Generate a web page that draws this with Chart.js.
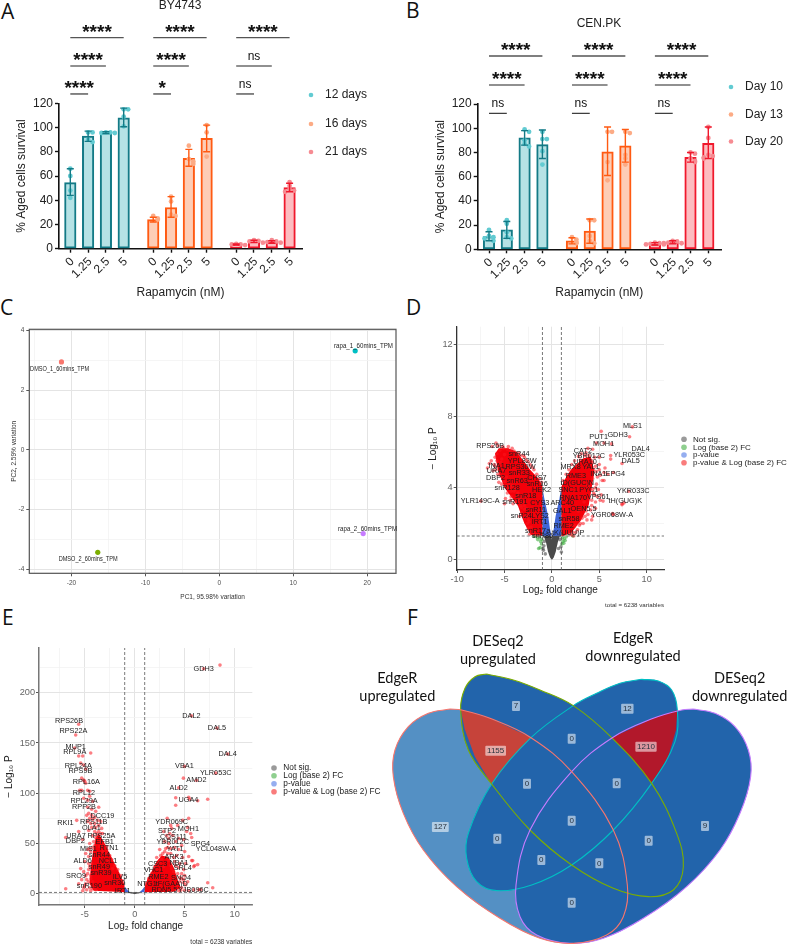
<!DOCTYPE html>
<html>
<head>
<meta charset="utf-8">
<title>Rapamycin survival and RNA-seq panels</title>
<script src="https://cdn.jsdelivr.net/npm/chart.js@4/dist/chart.umd.js"></script>
<style>
  body { margin: 0; background: #fff; width: 787px; height: 947px; position: relative; overflow: hidden; }
  canvas { position: absolute; }
  .letter { position: absolute; font-family: "Open Sans", sans-serif; font-size: 21px; line-height: 21px; color: #111; }
</style>
</head>
<body>
<div class="letter" style="left:1px;top:1px">A</div>
<div class="letter" style="left:406px;top:0px">B</div>
<div class="letter" style="left:0px;top:297px">C</div>
<div class="letter" style="left:406px;top:297px">D</div>
<div class="letter" style="left:2px;top:607px">E</div>
<div class="letter" style="left:407px;top:607px">F</div>
<canvas id="panelA" width="400" height="300" style="left:0;top:0"></canvas>
<canvas id="panelB" width="387" height="300" style="left:400px;top:0"></canvas>
<canvas id="panelC" width="400" height="320" style="left:0;top:300px"></canvas>
<canvas id="panelD" width="387" height="320" style="left:400px;top:300px"></canvas>
<canvas id="panelE" width="390" height="337" style="left:0;top:610px"></canvas>
<canvas id="panelF" width="447" height="337" style="left:340px;top:610px"></canvas>

<script>
// ==== DATA: survival bars ====
const doses = ['0', '1.25', '2.5', '5'];

const byMeans = [54.5, 93, 95.8, 108, 24, 34, 74.5, 91, 3.5, 6, 5.5, 50.5];
const byLow = [44, 88.6, 95, 100.7, 22, 26, 68, 80, 3, 5, 4.5, 47];
const byHigh = [66, 97, 96.5, 116, 26, 43, 82, 102, 4, 7, 6.5, 54];
const byPoints = [
  [66, 60, 48, 42], [96, 96, 90, 88], [96, 96, 95.5, 95.5], [115, 115, 109, 101],
  [27, 25, 24], [43, 39, 28, 27], [85, 74, 72, 70], [102, 96, 76],
  [4, 3.5, 3.5, 3], [7, 6.5, 6, 5], [7, 6, 5.5, 5], [55, 52, 49, 48, 47]
];
const byLegend = ['12 days', '16 days', '21 days'];
const bySigLabels = ['****', '****', '****', '****', '****', '*', '****', 'ns', 'ns'];
const bySigLevels = [174.2, 150.8, 127.7, 174.2, 150.8, 127.7, 174.2, 150.8, 127.7];

const cenMeans = [10.5, 16, 92, 86.5, 7, 15, 80.5, 85.5, 4.5, 6, 76, 87.5];
const cenLow = [7, 9, 86, 75, 4.5, 5, 61, 72, 3.5, 4.5, 72, 75];
const cenHigh = [14.5, 23, 98, 98.5, 9.5, 25, 101, 99, 5.5, 7, 80, 101];
const cenPoints = [
  [16, 11, 10, 9, 7], [24, 21, 14, 10, 9], [99, 97, 90, 87, 85], [97, 91, 91, 81, 70],
  [10, 8, 6, 5], [24, 24, 11, 7, 5], [97, 97, 72, 57], [97, 96, 78, 75, 70],
  [5.5, 5, 4.5, 4, 4], [7, 6.5, 5.5, 5, 5], [80, 79, 75, 73, 72], [101, 92, 78, 77, 76, 75]
];
const cenLegend = ['Day 10', 'Day 13', 'Day 20'];
const cenSigLabels = ['****', '****', 'ns', '****', '****', 'ns', '****', '****', 'ns'];
const cenSigLevels = [159.6, 135.7, 112.3, 159.6, 135.7, 112.3, 159.6, 135.7, 112.3];

// ==== DATA: PCA ====
const pcaNames = ['DMSO_1_60mins_TPM', 'rapa_1_60mins_TPM', 'DMSO_2_60mins_TPM', 'rapa_2_60mins_TPM'];
const pcaX = [-21.35, 18.38, -16.44, 19.46];
const pcaY = [2.94, 3.31, -3.43, -2.8];
const pcaLabelX = [-21.6, 19.5, -17.74, 20.05];
const pcaLabelY = [2.7, 3.47, -3.66, -2.63];

// ==== DATA: volcano D ====
const dRedCoreL = [[-1,1.3],[-1,4.1],[-1.5,4.55],[-2.3,5],[-3,5.5],[-3.7,6],[-4.6,6.2],[-5.6,6.2],[-6,5.9],[-5.7,5],[-5,4],[-3.6,3],[-2.9,2],[-2.2,1.35],[-1,1.3]];
const dRedCoreR = [[1,1.3],[1,4.05],[1.5,4.6],[2,5],[3.3,5.65],[4.1,5.75],[4.5,4.9],[4.2,3.97],[3.9,3.05],[3.1,2.2],[2.1,1.5],[1.2,1.3],[1,1.3]];
const dBlueL = [[-1,1.3],[-1,4],[-0.8,3.4],[-0.55,2.8],[-0.39,2.4],[-0.2,1.7],[-0.05,1.3],[-1,1.3]];
const dBlueR = [[1,1.3],[1,4],[0.8,3.4],[0.55,2.8],[0.39,2.4],[0.2,1.7],[0.05,1.3],[1,1.3]];
const dGrey = [[-0.85,1.3],[-0.6,0.9],[-0.4,0.4],[-0.2,0.1],[0,-0.03],[0.2,0.1],[0.4,0.4],[0.6,0.9],[0.85,1.3],[0.05,1.3],[0,1.1],[-0.05,1.3],[-0.85,1.3]];
const dRedPoints = [
  [-5.9,6.5],[-6.3,6.3],[-5.2,6.3],[-5.5,6.1],[-4.7,6.15],[-4.4,6.05],[-4,6.05],[-3.7,5.85],[-3.3,5.8],[-2.9,5.7],[-2.5,5.45],[-2.1,5.15],
  [-6.8,5.1],[-6.4,5.5],[-6,5.7],[-5.6,5.2],[-5.3,5.6],[-5,5.85],[-6.1,5.3],[-5.9,5],[-5.7,4.75],[-5.2,4.6],[-5.6,4.3],[-5,4.35],[-4.9,3.4],
  [-5,3.1],[-4.3,3.5],[-4,3.8],[-4.5,3.95],[-3.6,3.3],[-3.3,3],[-3.2,2.6],[-3.4,2.4],[-2.9,2.8],[-2.6,2.5],[-2.4,2.1],[-2.2,1.8],[-2,1.5],
  [-1.8,1.4],[-1.5,1.35],[-7.5,3.25],[-4.1,3.1],[-3.7,3.55],[-4.8,4.1],[-4.3,3.8],[-3.1,3.2],[-2.7,2.85],[-2.5,1.75],[-2.35,1.4],
  [-5.8,5.9],[-5.4,5.4],[-5.1,5],[-4.8,4.6],[-4.5,4.3],[-4.2,4.1],[-3.9,3.9],[-3.6,3.7],[-3.4,3.4],[-3.1,3.5],[-2.9,3],[-2.7,2.4],[-2.5,2.2],[-2.2,1.55],[-2.6,2],[-2.9,2.3],
  [-3.2,2.9],[-3.8,3.2],[-4.4,3.3],[-4.7,3.7],[-5.3,4.2],[-5.5,4.7],[-6.2,4.95],[-6,5.2],[-6.6,5.35],[-5.8,5.5],[-4.2,6.2],[-3.5,5.95],[-3,5.8],[-2.7,5.55],[-2.3,5.3],[-1.9,5],
  [-1.6,4.75],[-1.3,4.5],[-1.1,4.3],[-4.6,6.3],[-5.1,6.2],[-5.7,6.35],
  [5.2,7.15],[8.5,7.4],[8.2,6.85],[6.3,6.45],[4.7,6.5],[5.5,6.5],[4.3,6.15],[3.8,6.2],[6.2,5.8],[6.2,5.6],[5,5.7],[4.5,5.7],[7.4,5.35],[5,5.3],
  [4.3,5.4],[3.5,5.8],[5.5,4.85],[5,5],[4.4,5],[5.9,4.75],[6.5,4.85],[4.8,4.6],[4.3,4.5],[4,4.3],[3.8,4.1],[4.3,3.9],[4.9,3.9],[5.2,3.6],[5.1,3.3],
  [5.4,3.25],[4.5,3.6],[8.1,3.8],[7.4,3.1],[7.4,3.05],[7.6,3.15],[6.4,2.55],[6.5,2.5],[4.6,2.85],[4.3,2.4],[4.2,2.2],[3.6,2.7],[3.2,2.3],[3,2],
  [2.4,1.9],[2.2,1.5],[2.3,1.3],[1.9,1.4],[3.9,3.4],[4.2,3],[3.4,3.2],[2.8,2.7],[4.6,3.2],[4.7,4.2],[2.6,5.25],[3,5.55],
  [1.2,4.4],[1.5,4.75],[1.8,5],[2.1,5.3],[2.4,5.5],[2.8,5.75],[3.1,5.9],[3.6,5.95],[3.9,5.8],[4.2,5.5],[4.6,5.2],[4.7,4.9],[5.1,4.7],[5.3,4.4],[4.6,4],[4.4,3.7],[4.2,3.3],
  [4.1,2.75],[3.8,2.5],[3.5,2.4],[3.3,2],[2.9,1.9],[2.7,1.65],[2.5,1.5],[2.1,1.35],[3.7,2.2],[5.5,4.4],[4.8,3.5],[5.6,5.1]
];
const dGreenPoints = [[-1.3,1.2],[-1.5,1.1],[-1.2,1],[-1.1,0.85],[-1.25,0.65],[-1.4,0.6],[-1.6,1.25],[-1.05,1.1],[-1.9,1.28],[1.1,1.2],[1.3,1.15],[1.15,1],[1.05,0.85],[1.25,0.9],[1.5,1.25],[2.2,1.3],[1.4,1.05]];
const dGreyPoints = [[-0.95,0.6],[-0.85,0.75],[-0.9,0.5],[1,0.4],[0.95,0.7],[-0.7,0.3],[0.7,0.6],[-0.8,1],[0.85,1.1]];
const dGeneNames = ['MLS1','GDH3','PUT1','MOH1','DAL4','YLR053C','DAL5','CAT2','YBR012C','URA10','MRX8','YAL1','INA1','EPG4','RME3','tD(GUC)N','SNC1','PYC1','YKR033C','RNA170','VPS61','tH(GUG)K','ARC40','GAL1','OEN5.5','YGR068W-A','snR58','RME2','tK(UUU)P',
  'RPS26B','snR44','YPL82W','RPS30W','INA1','URA7','snR33','DBP2','CHS7','snR63','snR16','snR128','HEK2','snR18','YLR149C-A','snR191','CYS3','snR11','snR24','LYS2','IRT1','snR17a','snR86'];
const dGeneX = [8.5,6.93,4.93,5.46,9.36,8.17,8.31,3.27,3.9,3.5,1.97,4.12,4.89,6.69,2.53,2.68,1.72,3.9,8.59,2.25,4.89,7.74,1.09,1.09,3.34,6.34,1.8,1.23,1.72,
  -6.51,-3.48,-3.13,-3.31,-5.84,-5.84,-3.45,-5.95,-1.58,-3.66,-1.55,-4.72,-1.09,-2.75,-7.57,-3.91,-1.27,-1.69,-3.24,-1.23,-1.3,-1.51,-0.99];
const dGeneY = [7.44,6.96,6.81,6.44,6.16,5.82,5.49,6.06,5.75,5.43,5.15,5.13,4.78,4.76,4.66,4.25,3.88,3.88,3.82,3.41,3.47,3.26,3.13,2.72,2.82,2.48,2.24,1.87,1.49,
  6.31,5.88,5.47,5.15,5.24,4.91,4.81,4.53,4.53,4.38,4.22,4.01,3.86,3.53,3.26,3.19,3.12,2.74,2.43,2.43,2.07,1.6,1.29];

// ==== DATA: volcano E ====
const eRedCoreL = [[-1,1.5],[-1.02,9],[-1.4,18],[-1.9,28],[-2.5,40],[-3.1,52],[-3.6,60],[-3.9,55],[-4.2,40],[-4.4,25],[-4.5,10],[-4.1,3],[-1,1.5]];
const eRedCoreR = [[1,1.5],[1.03,8],[1.3,15],[1.8,24],[2.2,32],[2.7,38],[3.4,36],[3.9,26],[4.3,14],[4.6,6],[3.9,2],[1,1.5]];
const eBlueL = [[-1,7.5],[-0.8,4.5],[-0.55,2.2],[-0.45,1.4],[-1,1.3],[-1,7.5]];
const eBlueR = [[1,7.5],[0.8,4.5],[0.55,2.2],[0.45,1.4],[1,1.3],[1,7.5]];
const eGrey = [[-0.7,1.3],[-0.3,0.2],[0,-0.4],[0.3,0.2],[0.7,1.3],[0.3,1.6],[0,1.4],[-0.3,1.6],[-0.7,1.3]];
const eRedPoints = [
  [8.53,227.5],[6.9,223.9],[5.67,177],[8.23,164.8],[9.3,139],[4.97,126.7],[8.1,120],[4.87,115],[6.17,112.8],[4.4,105.5],[4.1,95.5],[5.4,96],[5.5,94],[4.1,88],[6.3,92.5],[7.3,94],
  [3.25,75],[5.4,75],[4.8,73],[3.6,68],[4.3,68],[5.3,66],[3.7,65],[5.2,62],[5.6,60],[5.7,56],[4.9,54],[3.8,58],[3.4,55],[3,52],[4.7,48],[3.1,45],[3.6,45],[4,46],[5,42],[2.8,40],
  [4.2,38],[5.4,37],[3.1,36],[5.7,33],[5.8,33],[4,32],[4.5,30],[3.6,28],[6,28],[6.3,29],[5.9,27],[4.9,24],[3.7,25],[2.9,27],[2.5,32],[4.3,20],[4.7,15],[5,18],[3.9,15],[7.3,11],[7.8,6],
  [5.4,3],[6.4,4],[6.6,4.2],[5.9,3.8],[4.4,3],[4.6,3.5],[4.9,11],[4.2,8],[3.6,10],[4,5],[3.3,40],[2.7,34],[3.4,33],[3.9,22],[4.5,12],
  [1.1,10],[1.4,15],[1.7,20],[2,27],[2.3,30],[2.6,38],[3,42],[2.5,44],[3.3,46],[3.6,40],[3.9,36],[4.1,28],[4.4,26],[4.7,20],[4.9,14],[5.1,9],[4.7,6],[5,3.5],[3.2,58],[2.9,62],
  [3.5,60],[4.1,52],[4.4,44],[3.4,50],[4.4,55],[4.8,36],[5.1,30],[2.2,36],[4.5,16],[5.3,12],
  [-5.6,168.7],[-5.9,158],[-4.4,140],[-6,145],[-5.6,137],[-5.2,137],[-5.4,130],[-5.1,128],[-4.9,124],[-5.3,115],[-5.1,113],[-5,112],[-4.9,110],[-5.5,103],[-5.3,103],[-4.7,103],[-4.5,102],
  [-4.5,97],[-5.1,95],[-4.7,93],[-4.2,92],[-3.6,86],[-4.7,86],[-4.3,84],[-4.6,80],[-4.8,78],[-4.3,78],[-4,76],[-3.7,73],[-4.7,72],[-5.8,73],[-4.4,70],[-3.6,68],[-3.9,66],[-4.6,63],
  [-4,62],[-5.6,62],[-3.4,60],[-4.2,58],[-3.7,57],[-6.9,56],[-5.2,54],[-3.3,52],[-4.5,50],[-4,48],[-3.5,47],[-2.8,47],[-4.7,44],[-3.2,42],[-4.9,40],[-2.8,40],[-4.6,37],[-3.5,35],[-5,32],
  [-4.3,30],[-4.5,27],[-5.4,25],[-4.6,24],[-4.4,18],[-5.3,14],[-4.4,15],[-4.2,12],[-6.9,5],[-5,8],[-4.5,6],[-4.2,5],[-3.9,4],[-4.8,4],[-4.3,66],[-3.8,54],[-3.2,60],
  [-4.5,45],[-4.4,42],[-4.6,30],[-4.7,20],[-4.8,14],[-4.9,10],[-4.6,12],[-5.1,6],[-3.8,60],[-3.5,52],[-3.9,56],[-4.1,52],[-4.2,46],[-3.1,48],[-2.8,44],[-2.5,38],[-2.3,34],[-2,28],
  [-1.7,24],[-1.4,18],[-1.2,13],[-5.2,3],[-4.4,3],[-3.3,65],[-3.6,62],[-4,70],[-3.4,72],[-3.9,82],[-4.2,74],[-4.5,75],[-2.6,32],[-2.2,25],[-5.6,10],[-4.9,18],[-5.1,22]
];
const eGeneNames = ['GDH3','DAL2','DAL5','DAL4','VBA1','YLR053C','AMD2','ALD2','UGA4','YDR069C','MOH1','STP2','COS111','YBR012C','SPG4','YCL048W-A','YAT1','ARK3','CSC3','NBA1','SRL4','VHC1','RME2','SNO4','NTG1','tF(GAA)D','RDN5.5','YJB096C',
  'RPS26B','RPS22A','MUP1','RPL9A','RPL24A','RPS9B','RPL16A','RPL12','RPL29A','RPP2B','DCC19','RKI1','RPS11B','OLA1','URA7','RPS25A','DBP2','EFB1','MIS1','RTN1','snR44','ALD6','NCL1','snR49','snR39','ILV5','SRO9','snR30','snR190','IRT1'];
const eGeneX = [6.9,5.67,8.23,9.3,4.97,8.1,6.17,4.4,5.37,3.7,5.37,3.23,3.87,3.8,6.57,8.13,4.03,3.93,2.3,4.43,4.8,1.9,2.37,4.63,1.23,3.7,2.97,5.87,
  -6.57,-6.13,-5.9,-6,-5.63,-5.43,-4.83,-5.07,-5.07,-5.07,-3.23,-6.93,-4.1,-4.33,-5.87,-3.33,-5.93,-3,-4.63,-2.57,-3.53,-5.2,-2.67,-3.53,-3.37,-1.47,-5.87,-2,-4.53,-1.2];
const eGeneY = [223.9,177.1,164.8,139,126.7,120,112.8,105.5,93.5,71.3,64.7,62.7,56.7,51.7,49.8,44.1,44.8,36.8,29.9,30.2,25.2,23.2,16.9,15.6,10,10,3.6,3.6,
  171.8,162.2,146.3,141,127.4,122.4,111,100.2,92.2,86.6,77.6,70.6,71.6,65,57.7,57,52,51,44.8,45.1,38.5,32.2,32.8,26.2,20.2,16.9,17.6,10.3,7.6,2.7];

const volcanoLegend = ['Not sig.', 'Log (base 2) FC', 'p-value', 'p-value & Log (base 2) FC'];

// ==== DATA: venn ====
const vennEdgeRUp = [[330,297],[365,300],[450,325],[573,383],[695,485],[820,660],[862,825],[850,920],[800,975],[700,1000],[600,985],[480,925],[350,830],[250,720],[190,610],[160,500],[165,420],[205,350],[265,310],[330,297]];
const vennDeseqDown = [[1060,297],[1025,300],[940,325],[817,383],[695,485],[570,660],[528,825],[540,920],[590,975],[690,1000],[790,985],[910,925],[1040,830],[1140,720],[1200,610],[1232,500],[1225,420],[1185,350],[1125,310],[1060,297]];
const vennDeseqUp = [[440,192],[520,210],[600,240],[700,287],[815,383],[935,520],[1010,670],[1030,770],[1000,840],[925,860],[820,835],[695,765],[570,660],[455,522],[385,420],[362,300],[375,235],[405,200],[440,192]];
const vennEdgeRDown = [[905,208],[840,220],[770,250],[700,287],[573,383],[455,522],[385,670],[380,745],[410,815],[470,842],[575,825],[695,765],[820,660],[935,520],[1005,395],[1012,300],[995,240],[955,213],[905,208]];
const vennUpShared = [[362,298],[450,325],[573,383],[510,450],[455,522],[405,440],[375,360],[362,298]];
const vennDownShared = [[1012,300],[940,325],[817,383],[880,450],[935,520],[985,440],[1008,360],[1012,300]];
const vennCounts = ['7','12','0','1155','1210','0','0','0','127','9','0','0','0','0','0'];
const vennCountX = [528,862,695,467,918,561,830,695,301,1095,472,926,604,778,695];
const vennCountY = [288,296,386,422,410,521,520,632,651,648,686,692,750,760,878];
const vennSetNames = ['EdgeR', 'upregulated', 'DESeq2', 'upregulated', 'EdgeR', 'downregulated', 'DESeq2', 'downregulated'];
const vennSetX = [172,172,474,474,879,879,1199,1199];
const vennSetY = [205,260,93,148,85,140,205,260];

// ==== COLOURS / FONTS ====
const SANS = '"Liberation Sans", Arial, sans-serif';
const groupLine = ['#137a86', '#ff5a12', '#f0182c'];
const groupFill = ['#b5e2e5', '#fdcdb6', '#fdbcc0'];
const groupDot = ['#62cbd2', '#fcab85', '#f68b92'];
const GROUP_GAP = 1.66;
// a hair of tension: the straight-line fast path of Chart.js merges vertical edges of closed shapes
const STRAIGHT = 0.01;

function toXY(pairs) {
  return pairs.map(p => ({ x: p[0], y: p[1] }));
}

// axis title sits "dist" px in from the outer edge of the scale box
function axisTitle(text, dist, size, color) {
  const pad = dist - size * 0.6;
  return {
    display: true, text: text, color: color,
    font: { family: SANS, size: size },
    padding: { top: pad, bottom: pad }
  };
}

// padding that puts the plot area on a fixed rectangle of the canvas
function plotLayout(w, h, rect) {
  return {
    autoPadding: false,
    padding: { left: 0, top: rect.top, right: w - rect.right, bottom: 0 }
  };
}

function dotLegend(ctx, names, colors, dotX, textX, ys, font, radius) {
  ctx.save();
  ctx.font = font;
  ctx.textBaseline = 'middle';
  ctx.textAlign = 'left';
  names.forEach((n, i) => {
    ctx.fillStyle = colors[i];
    ctx.beginPath();
    ctx.arc(dotX, ys[i], radius, 0, Math.PI * 2);
    ctx.fill();
    ctx.fillStyle = '#222';
    ctx.fillText(n, textX, ys[i]);
  });
  ctx.restore();
}

// ==== SURVIVAL BARS (A, B) ====
function survivalChart(id, d) {
  const canvas = document.getElementById(id);
  const w = canvas.width, h = canvas.height;
  const positions = d.means.map((m, i) => Math.floor(i / 4) * (3 + GROUP_GAP) + (i % 4));
  const unit = d.rect.barStep;

  // spread repeated values sideways, like a small swarm
  const dots = [];
  const dotColors = [];
  d.points.forEach((vals, i) => {
    const placed = [];
    vals.forEach(v => {
      const near = placed.filter(p => Math.abs(p - v) < 3).length;
      const shift = near === 0 ? 0 : (near % 2 ? 1 : -1) * Math.ceil(near / 2) * 0.25;
      placed.push(v);
      dots.push({ x: positions[i] + shift, y: v });
      dotColors.push(groupDot[Math.floor(i / 4)]);
    });
  });

  const marks = {
    id: 'marks',
    afterDatasetsDraw(chart) {
      const { ctx, scales: { x, y } } = chart;
      ctx.save();
      // error bars
      d.means.forEach((m, i) => {
        const px = x.getPixelForValue(positions[i]);
        const lo = y.getPixelForValue(d.low[i]);
        const hi = y.getPixelForValue(d.high[i]);
        ctx.strokeStyle = groupLine[Math.floor(i / 4)];
        ctx.lineWidth = 1.4;
        ctx.beginPath();
        ctx.moveTo(px, lo); ctx.lineTo(px, hi);
        ctx.moveTo(px - 3.5, lo); ctx.lineTo(px + 3.5, lo);
        ctx.moveTo(px - 3.5, hi); ctx.lineTo(px + 3.5, hi);
        ctx.stroke();
      });
      // significance brackets, each starts at the 0 bar of its group
      d.sigLabels.forEach((label, i) => {
        const g = Math.floor(i / 3);
        const span = 3 - (i % 3);
        const x0 = positions[g * 4];
        const x1 = positions[g * 4 + span];
        const py = y.getPixelForValue(d.sigLevels[i]);
        ctx.strokeStyle = i % 3 === 0 ? '#555' : '#222';
        ctx.lineWidth = i % 3 === 0 ? 1.4 : 1.1;
        ctx.beginPath();
        ctx.moveTo(x.getPixelForValue(x0), py);
        ctx.lineTo(x.getPixelForValue(x1), py);
        ctx.stroke();
        ctx.fillStyle = '#111';
        ctx.textAlign = 'center';
        ctx.textBaseline = 'alphabetic';
        const cx = x.getPixelForValue((x0 + x1) / 2);
        if (label === 'ns') {
          ctx.font = '12px ' + SANS;
          ctx.fillText(label, cx, py - 6);
        } else {
          ctx.font = 'bold 19px ' + SANS;
          ctx.fillText(label, cx, py);
        }
      });
      // title
      ctx.fillStyle = '#222';
      ctx.font = '12px ' + SANS;
      ctx.textAlign = 'center';
      ctx.textBaseline = 'middle';
      ctx.fillText(d.title, d.titleX, d.titleY);
      ctx.restore();
      dotLegend(ctx, d.legend, groupDot, d.legendDotX, d.legendTextX, d.legendY, '12px ' + SANS, 2.3);
    }
  };

  new Chart(canvas, {
    type: 'bar',
    data: {
      datasets: [
        {
          type: 'scatter', data: dots, backgroundColor: dotColors, pointRadius: 2.4,
          pointBorderWidth: 0, order: 1
        },
        {
          type: 'bar', data: positions.map((x, i) => ({ x: x, y: d.means[i] })),
          backgroundColor: d.means.map((m, i) => groupFill[Math.floor(i / 4)]),
          borderColor: d.means.map((m, i) => groupLine[Math.floor(i / 4)]),
          borderWidth: 2, borderSkipped: false, barThickness: 11.5, order: 2
        }
      ]
    },
    plugins: [marks],
    options: {
      responsive: false, animation: false,
      layout: plotLayout(w, h, d.rect),
      plugins: { legend: { display: false }, tooltip: { enabled: false } },
      scales: {
        x: {
          type: 'linear', offset: false,
          min: (d.rect.left - d.rect.first) / unit,
          max: (d.rect.right - d.rect.first) / unit,
          afterBuildTicks: s => { s.ticks = positions.map(v => ({ value: v })); },
          afterFit: s => { s.height = h - d.rect.bottom; },
          grid: { offset: false, drawOnChartArea: false, tickColor: '#111', tickWidth: 1.4, tickLength: 4 },
          border: { color: '#111', width: 1.6 },
          ticks: {
            callback: (v, i) => doses[i % 4], autoSkip: false, minRotation: 45, maxRotation: 45,
            color: '#222', padding: 2, labelOffset: 2, font: { family: SANS, size: 12 }
          },
          title: axisTitle('Rapamycin (nM)', h - d.xTitleY, 12, '#222')
        },
        y: {
          min: 0, max: 120,
          afterFit: s => { s.width = d.rect.left; },
          grid: { drawOnChartArea: false, tickColor: '#111', tickWidth: 1.4, tickLength: 4 },
          border: { color: '#111', width: 1.6 },
          ticks: { stepSize: 20, color: '#222', padding: 2, font: { family: SANS, size: 12 } },
          title: axisTitle('% Aged cells survival', d.yTitleX, 12, '#222')
        }
      }
    }
  });
}

survivalChart('panelA', {
  means: byMeans, low: byLow, high: byHigh, points: byPoints,
  sigLabels: bySigLabels, sigLevels: bySigLevels,
  legend: byLegend, legendDotX: 311, legendTextX: 325, legendY: [95, 124, 152],
  title: 'BY4743', titleX: 180, titleY: 6,
  rect: { left: 59, top: 103.3, right: 302, bottom: 248.7, first: 70.3, barStep: 17.8 },
  xTitleY: 292.7, yTitleX: 22
});

survivalChart('panelB', {
  means: cenMeans, low: cenLow, high: cenHigh, points: cenPoints,
  sigLabels: cenSigLabels, sigLevels: cenSigLevels,
  legend: cenLegend, legendDotX: 331, legendTextX: 345, legendY: [87, 114.5, 141.5],
  title: 'CEN.PK', titleX: 199, titleY: 23.5,
  rect: { left: 77.7, top: 104, right: 321, bottom: 249.3, first: 89, barStep: 17.8 },
  xTitleY: 293, yTitleX: 40.7
});

// ==== PCA (C) ====
const softGrid = (isMajor) => ({
  color: c => isMajor(c.tick.value) ? '#e4e4e4' : '#f2f2f2',
  lineWidth: c => isMajor(c.tick.value) ? 1 : 0.8,
  tickColor: c => isMajor(c.tick.value) ? '#555' : 'rgba(0,0,0,0)',
  tickLength: 3
});

(function () {
  const canvas = document.getElementById('panelC');
  const w = canvas.width, h = canvas.height;
  const rect = { left: 29.3, top: 29.3, right: 396, bottom: 273.3 };
  new Chart(canvas, {
    type: 'scatter',
    data: {
      datasets: [{
        data: pcaX.map((x, i) => ({ x: x, y: pcaY[i] })),
        backgroundColor: ['#f8766d', '#00bfc4', '#7cae00', '#c77cff'],
        pointRadius: 2.6, pointBorderWidth: 0
      }]
    },
    plugins: [{
      id: 'pcaMarks',
      afterDatasetsDraw(chart) {
        const { ctx, chartArea: a, scales: { x, y } } = chart;
        ctx.save();
        ctx.strokeStyle = '#555';
        ctx.lineWidth = 1.2;
        ctx.strokeRect(a.left, a.top, a.right - a.left, a.bottom - a.top);
        ctx.fillStyle = '#222';
        ctx.font = '7.6px ' + SANS;
        ctx.textAlign = 'center';
        ctx.textBaseline = 'middle';
        // the sample labels are condensed in the figure
        pcaNames.forEach((n, i) => {
          ctx.fillText(n, x.getPixelForValue(pcaLabelX[i]), y.getPixelForValue(pcaLabelY[i]), 59);
        });
        ctx.restore();
      }
    }],
    options: {
      responsive: false, animation: false,
      layout: plotLayout(w, h, rect),
      plugins: { legend: { display: false }, tooltip: { enabled: false } },
      scales: {
        x: {
          min: -25.7, max: 23.9,
          afterFit: s => { s.height = h - rect.bottom; },
          grid: softGrid(v => v % 10 === 0),
          ticks: {
            stepSize: 5, includeBounds: false, autoSkip: false, maxRotation: 0,
            callback: v => (v % 10 === 0 ? String(v) : ''),
            color: '#4d4d4d', padding: 3, font: { family: SANS, size: 6.5 }
          },
          title: axisTitle('PC1, 95.98% variation', h - 297, 6.5, '#333')
        },
        y: {
          min: -4.13, max: 4.03,
          afterFit: s => { s.width = rect.left; },
          grid: softGrid(v => v % 2 === 0),
          ticks: {
            stepSize: 1, includeBounds: false, autoSkip: false,
            callback: v => (v % 2 === 0 ? String(v) : ''),
            color: '#4d4d4d', padding: 2, font: { family: SANS, size: 6.5 }
          },
          title: axisTitle('PC2, 2.59% variation', 14, 6.5, '#333')
        }
      }
    }
  });
})();

// ==== VOLCANOES (D, E) ====
function volcanoChart(id, d) {
  const canvas = document.getElementById(id);
  const w = canvas.width, h = canvas.height;
  const shape = (pairs, color, order) => ({
    data: toXY(pairs), showLine: true, fill: 'shape', backgroundColor: color,
    borderWidth: 0, pointRadius: 0, tension: STRAIGHT, order: order
  });
  const guide = (pairs) => ({
    data: toXY(pairs), showLine: true, fill: false, borderColor: '#555', borderWidth: 0.8,
    borderDash: [3, 2], pointRadius: 0, order: 1
  });
  const dots = (pairs, color, order) => ({
    data: toXY(pairs), backgroundColor: color, pointRadius: 1.8, pointBorderWidth: 0, order: order
  });
  new Chart(canvas, {
    type: 'scatter',
    data: {
      datasets: [
        shape(d.grey, '#4a4a4a', 9),
        dots(d.greyPoints, 'rgba(70,70,70,0.6)', 8),
        dots(d.greenPoints, 'rgba(60,170,60,0.6)', 7),
        shape(d.blueL, '#3f66d8', 6),
        shape(d.blueR, '#3f66d8', 6),
        shape(d.redL, '#f5000a', 5),
        shape(d.redR, '#f5000a', 5),
        dots(d.redPoints, 'rgba(250,20,30,0.55)', 4),
        guide([[-1, d.yMin], [-1, d.yMax]]),
        guide([[1, d.yMin], [1, d.yMax]]),
        guide([[d.xMin, 1.3], [d.xMax, 1.3]])
      ]
    },
    plugins: [{
      id: 'volcanoMarks',
      afterDatasetsDraw(chart) {
        const { ctx, chartArea: a, scales: { x, y } } = chart;
        ctx.save();
        ctx.fillStyle = '#1c1c1c';
        ctx.font = '7.3px ' + SANS;
        ctx.textAlign = 'center';
        ctx.textBaseline = 'middle';
        d.geneNames.forEach((n, i) => {
          ctx.fillText(n, x.getPixelForValue(d.geneX[i]), y.getPixelForValue(d.geneY[i]));
        });
        ctx.fillStyle = '#333';
        ctx.font = d.totalFont + 'px ' + SANS;
        ctx.textAlign = 'right';
        ctx.fillText('total = 6238 variables', a.right, d.totalY);
        ctx.restore();
        dotLegend(ctx, volcanoLegend, ['#9a9a9a', '#8fcf8f', '#95aef0', '#f97c7c'],
          d.legendDotX, d.legendTextX, d.legendY, d.legendFont + 'px ' + SANS, 2.8);
      }
    }],
    options: {
      responsive: false, animation: false,
      layout: plotLayout(w, h, d.rect),
      plugins: { legend: { display: false }, tooltip: { enabled: false } },
      scales: {
        x: {
          min: d.xMin, max: d.xMax,
          afterFit: s => { s.height = h - d.rect.bottom; },
          grid: softGrid(v => v % d.xMajor === 0),
          border: { color: d.axisColor, width: d.axisWidth },
          ticks: {
            stepSize: d.xMajor / 2, includeBounds: false, autoSkip: false, maxRotation: 0,
            callback: v => (v % d.xMajor === 0 ? String(v) : ''),
            color: '#666', padding: 1, font: { family: SANS, size: 9.2 }
          },
          title: axisTitle('Log\u2082 fold change', h - d.xTitleY, 10, '#222')
        },
        y: {
          min: d.yMin, max: d.yMax,
          afterFit: s => { s.width = d.rect.left; },
          grid: softGrid(v => v % d.yMajor === 0),
          border: { color: d.axisColor, width: d.axisWidth },
          ticks: {
            stepSize: d.yMajor / 2, includeBounds: false, autoSkip: false,
            callback: v => (v % d.yMajor === 0 ? String(v) : ''),
            color: '#666', padding: 1, font: { family: SANS, size: 9.2 }
          },
          title: axisTitle('\u2212 Log\u2081\u2080 P', d.yTitleX, 10, '#222')
        }
      }
    }
  });
}

volcanoChart('panelD', {
  grey: dGrey, greyPoints: dGreyPoints, greenPoints: dGreenPoints, blueL: dBlueL, blueR: dBlueR,
  redL: dRedCoreL, redR: dRedCoreR, redPoints: dRedPoints,
  geneNames: dGeneNames, geneX: dGeneX, geneY: dGeneY,
  xMin: -10.05, xMax: 11.83, yMin: -0.6, yMax: 13, xMajor: 5, yMajor: 4,
  rect: { left: 56.7, top: 26.7, right: 264, bottom: 270 },
  axisColor: '#333', axisWidth: 1.2,
  xTitleY: 290.7, yTitleX: 33.3, totalY: 305.7, totalFont: 6.2,
  legendDotX: 284, legendTextX: 293, legendY: [139.3, 147.3, 155, 162.7], legendFont: 8
});

volcanoChart('panelE', {
  grey: eGrey, greyPoints: [], greenPoints: [], blueL: eBlueL, blueR: eBlueR,
  redL: eRedCoreL, redR: eRedCoreR, redPoints: eRedPoints,
  geneNames: eGeneNames, geneX: eGeneX, geneY: eGeneY,
  xMin: -9.57, xMax: 11.76, yMin: -11.2, yMax: 244.5, xMajor: 5, yMajor: 50,
  rect: { left: 39, top: 38, right: 252.3, bottom: 295 },
  axisColor: '#777', axisWidth: 1.5,
  xTitleY: 316, yTitleX: 9, totalY: 332, totalFont: 6.5,
  legendDotX: 274, legendTextX: 283.3, legendY: [158, 165.7, 173.7, 181.7], legendFont: 8.3
});

// ==== VENN (F) ====
(function () {
  const blob = (pairs, color, order) => ({
    data: toXY(pairs), showLine: true, fill: 'shape', backgroundColor: color, borderWidth: 0,
    pointRadius: 0, tension: 0.38, order: order
  });
  const rim = (pairs, color) => ({
    data: toXY(pairs), showLine: true, fill: false, borderColor: color, borderWidth: 1.1,
    pointRadius: 0, tension: 0.38, order: 1
  });
  const patch = (pairs, color) => ({
    data: toXY(pairs), showLine: true, fill: 'shape', backgroundColor: color, borderWidth: 0,
    pointRadius: 0, tension: STRAIGHT, order: 5
  });
  new Chart(document.getElementById('panelF'), {
    type: 'scatter',
    data: {
      datasets: [
        blob(vennEdgeRUp, '#5490c4', 20),
        blob(vennDeseqDown, '#2264ab', 19),
        blob(vennDeseqUp, '#2264ab', 18),
        blob(vennEdgeRDown, '#2264ab', 17),
        patch(vennUpShared, '#c6433a'),
        patch(vennDownShared, '#b2182b'),
        rim(vennEdgeRUp, '#f8766d'),
        rim(vennDeseqDown, '#c77cff'),
        rim(vennDeseqUp, '#7cae00'),
        rim(vennEdgeRDown, '#00bfc4')
      ]
    },
    plugins: [{
      id: 'vennLabels',
      afterDatasetsDraw(chart) {
        const { ctx, scales: { x, y } } = chart;
        ctx.save();
        ctx.textAlign = 'center';
        ctx.textBaseline = 'middle';
        ctx.font = '8px ' + SANS;
        vennCounts.forEach((t, i) => {
          const px = x.getPixelForValue(vennCountX[i]);
          const py = y.getPixelForValue(vennCountY[i]);
          const bw = ctx.measureText(t).width + 3.5;
          ctx.fillStyle = 'rgba(255,255,255,0.55)';
          ctx.beginPath();
          ctx.roundRect(px - bw / 2, py - 5, bw, 10, 1);
          ctx.fill();
          ctx.fillStyle = '#26313d';
          ctx.fillText(t, px, py);
        });
        ctx.font = '14.5px Lato, ' + SANS;
        ctx.fillStyle = '#111';
        vennSetNames.forEach((t, i) => {
          ctx.fillText(t, x.getPixelForValue(vennSetX[i]), y.getPixelForValue(vennSetY[i]));
        });
        ctx.restore();
      }
    }],
    options: {
      responsive: false, animation: false,
      layout: { autoPadding: false, padding: 0 },
      plugins: { legend: { display: false }, tooltip: { enabled: false } },
      scales: {
        x: { display: false, min: 0, max: 1341 },
        y: { display: false, min: 0, max: 1011, reverse: true }
      }
    }
  });
})();
</script>
</body>
</html>
